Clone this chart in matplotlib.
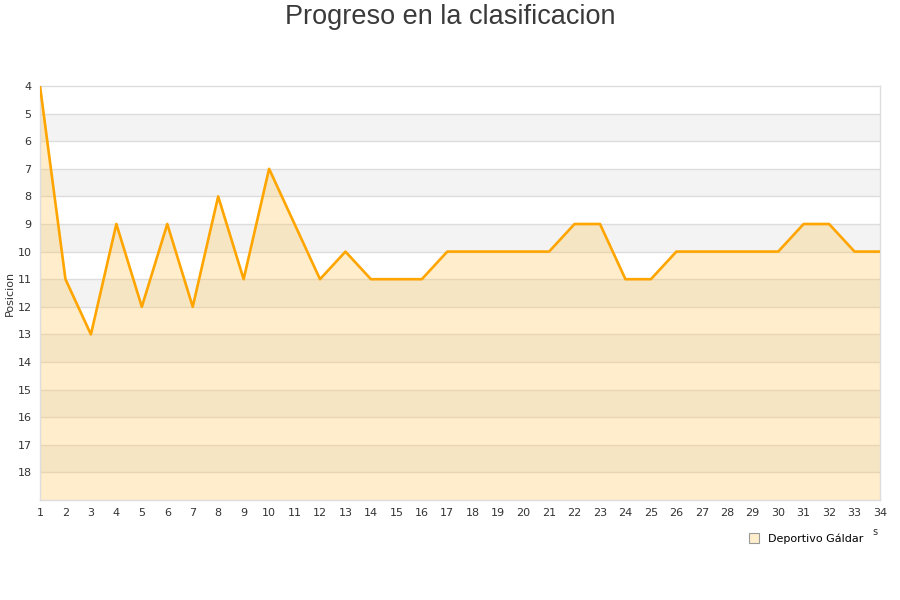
import matplotlib
matplotlib.use("Agg")
import matplotlib.pyplot as plt
from matplotlib.lines import Line2D

# jornadas y posicion
jornadas = list(range(1, 35))
posicion = [4, 11, 13, 9, 12, 9, 12, 8, 11, 7, 9, 11, 10, 11, 11, 11, 10, 10,
            10, 10, 10, 9, 9, 11, 11, 10, 10, 10, 10, 10, 9, 9, 10, 10]
equipo = "Deportivo Gáldar"
y_ticks = list(range(4, 19))

fig = plt.figure(figsize=(9, 6), dpi=100)
ax = fig.add_axes([40 / 900, 100 / 600, 840 / 900, 414 / 600])

# bandas alternas
for y in range(4, 19):
    if y % 2 == 1:
        ax.axhspan(y, y + 1, color="#f3f3f3", lw=0, zorder=0)
for y in range(5, 19):
    ax.axhline(y, color="#dddddd", lw=1, zorder=1)

ax.fill_between(jornadas, posicion, 19, color=(1.0, 198 / 255, 85 / 255),
                alpha=0.3, lw=0, zorder=2)
ax.plot(jornadas, posicion, color="#ffa500", lw=1.9, zorder=3)

ax.set_xlim(1, 34)
ax.set_ylim(19, 4)
ax.set_xticks(jornadas)
ax.set_yticks(y_ticks)
ax.tick_params(axis="both", length=0, labelsize=8, colors="#333333")
ax.tick_params(axis="x", pad=6)
ax.tick_params(axis="y", pad=6)
for s in ax.spines.values():
    s.set_color("#dddddd")
    s.set_linewidth(1)

ax.set_ylabel("Posicion", fontsize=8, color="#333333", labelpad=2)
fig.text(0.5, 1 - 17 / 600, "Progreso en la clasificacion", ha="center",
         va="center", fontsize=19.5, color="#3a3a3a", family="Liberation Sans")
fig.text(875 / 900, 1 - 532 / 600, "s", ha="center", va="center",
         fontsize=7, color="#333333")

handle = Line2D([], [], marker="s", ls="none", markersize=7,
                markerfacecolor="#ffeecc", markeredgecolor="#999999",
                markeredgewidth=0.8)
fig.legend([handle], [equipo], loc="center right",
           bbox_to_anchor=(868 / 900, 1 - 539 / 600), frameon=False,
           fontsize=8, handletextpad=0.3, borderaxespad=0)

fig.savefig("out.png", dpi=100)
